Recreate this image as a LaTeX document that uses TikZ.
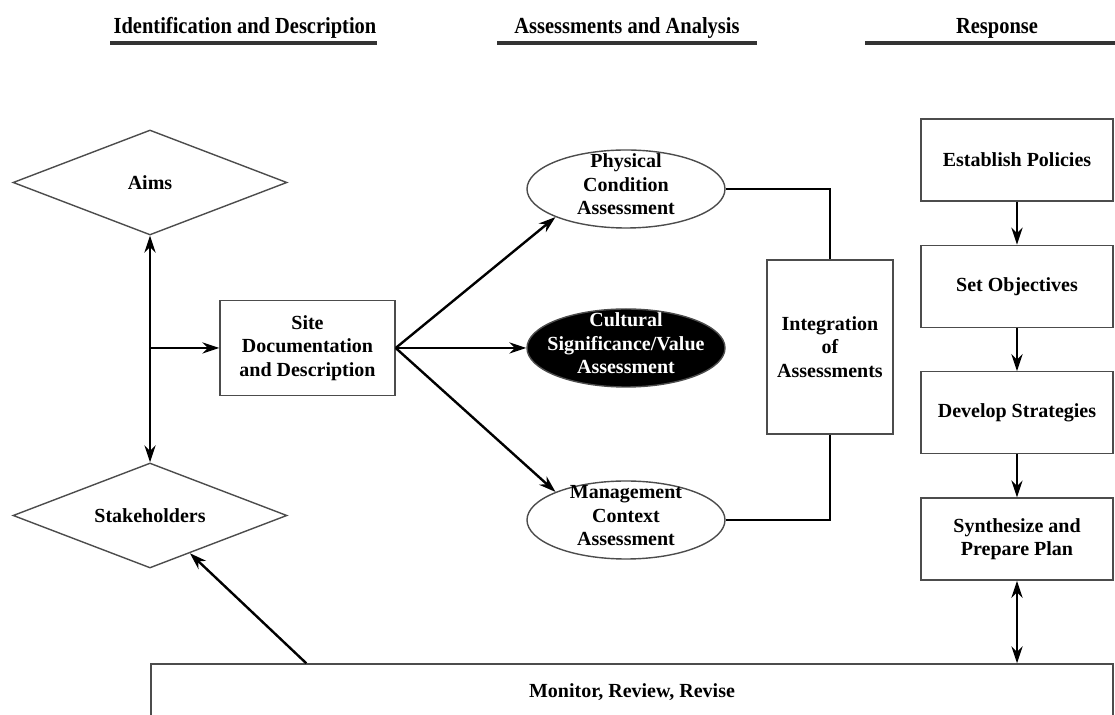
\documentclass[tikz,border=0pt]{standalone}
\usepackage{fontspec}
\setmainfont{Liberation Serif}
\usetikzlibrary{shapes.geometric,arrows.meta,positioning,calc}
\newcommand{\ovaltext}[1]{\makebox[0pt]{\raisebox{-.25em}{\smash{\begin{tabular}{@{}c@{}}#1\end{tabular}}}}}

\begin{document}
\begin{tikzpicture}[x=0.5pt,y=-0.5pt,
every node/.style={font=\fontsize{10}{11.75}\selectfont\bfseries},
head/.style={font=\fontsize{11.5}{13}\selectfont\bfseries},
box/.style={draw=black!70,line width=.7pt,align=center,inner sep=0pt},
dia/.style={diamond,draw=black!70,line width=.7pt,aspect=2.6,inner sep=0pt,
minimum width=137pt,minimum height=52.5pt},
oval/.style={ellipse,draw=black!70,line width=.7pt,inner sep=0pt,
minimum width=99pt,minimum height=39pt},
rbox/.style={box,minimum width=96pt,minimum height=41pt},
link/.style={line width=1.2pt,-{Stealth[length=8.5pt,width=5.6pt]}},
both/.style={line width=1.2pt,{Stealth[length=8.5pt,width=5.6pt]}-{Stealth[length=8.5pt,width=5.6pt]}},
rule/.style={line width=2pt,black!80}
]
\useasboundingbox (0,0) rectangle (1115,715);
\node[head] (hid) at (245,28) {\scalebox{.89}[1]{Identification and Description}};
\node[head] (han) at (627,28) {\scalebox{.89}[1]{Assessments and Analysis}};
\node[head] (hre) at (997,28) {\scalebox{.89}[1]{Response}};
\draw[rule] (110,43) -- (377,43);
\draw[rule] (497,43) -- (757,43);
\draw[rule] (865,43) -- (1115,43);

\node[dia] (aims) at (150,182.5) {Aims};
\node[dia] (stake) at (150,515.5) {Stakeholders};
\node[box,minimum width=87.5pt,minimum height=47.5pt] (site) at (307.5,348)
{Site\\Documentation\\and Description};

\node[oval] (phys) at (626,189) {\ovaltext{Physical\\Condition\\Assessment}};
\node[oval,fill=black,text=white] (cult) at (626,348) {\ovaltext{Cultural\\Significance/Value\\Assessment}};
\node[oval] (mgmt) at (626,520) {\ovaltext{Management\\Context\\Assessment}};
\node[box,minimum width=63pt,minimum height=87pt] (integ) at (830,347)
{Integration\\of\\Assessments};

\node[rbox] (pol) at (1017,160) {Establish Policies};
\node[rbox,below=21.5pt of pol] (obj) {Set Objectives};
\node[rbox,below=21.5pt of obj] (dev) {Develop Strategies};
\node[rbox,below=21.5pt of dev] (plan) {Synthesize and\\Prepare Plan};
\node[box,minimum width=481pt,minimum height=28pt] (mon) at (632,692) {Monitor, Review, Revise};

\draw[both] (aims) -- (stake);
\coordinate (fork) at (aims.south |- site.west);
\draw[link] (fork) -- (site);
\draw[link] (site.east) -- (phys.south west);
\draw[link] (site.east) -- (cult);
\draw[link] (site.east) -- (mgmt.north west);
\draw[line width=1.3pt] (phys) -| (integ);
\draw[line width=1.3pt] (mgmt) -| (integ);
\foreach \a/\b in {pol/obj,obj/dev,dev/plan}
\draw[link] (\a) -- (\b);
\draw[both] (plan) -- (plan |- mon.north);
\draw[link] ($(mon.north west)+(156,0)$) -- (stake);
\end{tikzpicture}
\end{document}
